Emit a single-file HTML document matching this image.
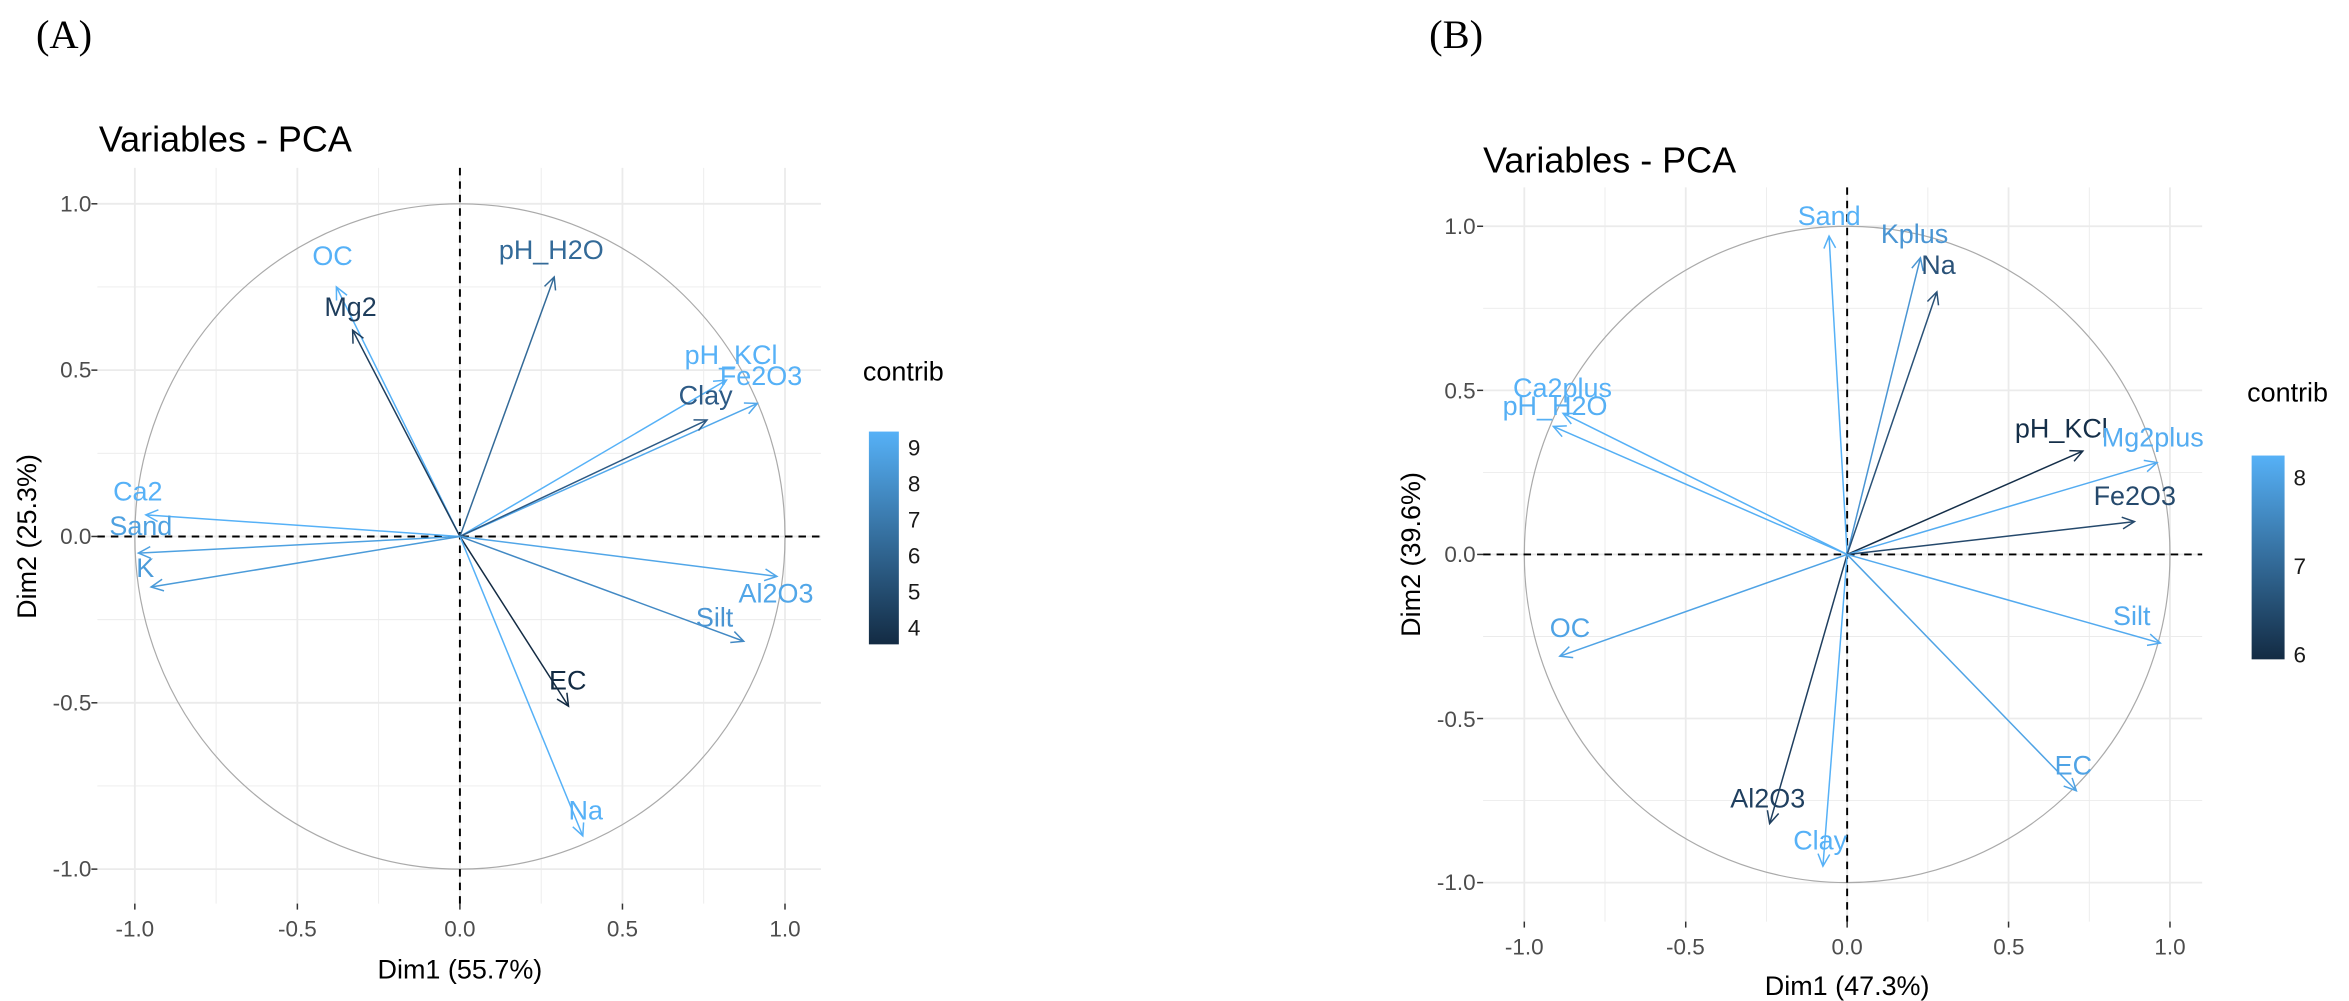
<!DOCTYPE html>
<html><head><meta charset="utf-8"><style>
html,body{margin:0;padding:0;background:#fff;}
svg{display:block;}
text{font-family:"Liberation Sans",Arial,sans-serif;}
</style></head><body>
<svg id="s" width="2349" height="1001" viewBox="0 0 1568 668" preserveAspectRatio="none" xmlns="http://www.w3.org/2000/svg">
<defs>
<linearGradient id="gA" x1="0" y1="0" x2="0" y2="1"><stop offset="0" stop-color="#56B1F7"/><stop offset="1" stop-color="#132B43"/></linearGradient>
<linearGradient id="gB" x1="0" y1="0" x2="0" y2="1"><stop offset="0" stop-color="#56B1F7"/><stop offset="1" stop-color="#132B43"/></linearGradient>
</defs>
<rect width="1568" height="668" fill="#fff"/>
<g id="grid"></g>
<g id="arr"></g>
<text x="24" y="32" font-size="27" style="font-family:'Liberation Serif',serif">(A)</text>
<text x="954" y="32" font-size="27" style="font-family:'Liberation Serif',serif">(B)</text>
<text x="66" y="101" font-size="24">Variables - PCA</text>
<text x="990" y="115" font-size="24">Variables - PCA</text>
<g font-size="15" fill="#4d4d4d" text-anchor="end">
<text x="61" y="141">1.0</text><text x="61" y="252">0.5</text><text x="61" y="363">0.0</text><text x="61" y="474">-0.5</text><text x="61" y="585">-1.0</text>
<text x="985" y="156">1.0</text><text x="985" y="266">0.5</text><text x="985" y="375">0.0</text><text x="985" y="485">-0.5</text><text x="985" y="594">-1.0</text>
</g>
<g font-size="15" fill="#4d4d4d" text-anchor="middle">
<text x="90" y="625">-1.0</text><text x="198.5" y="625">-0.5</text><text x="307" y="625">0.0</text><text x="415.5" y="625">0.5</text><text x="524" y="625">1.0</text>
<text x="1017.5" y="637">-1.0</text><text x="1125" y="637">-0.5</text><text x="1233" y="637">0.0</text><text x="1341" y="637">0.5</text><text x="1448.5" y="637">1.0</text>
</g>
<g font-size="18" text-anchor="middle">
<text x="307" y="653">Dim1 (55.7%)</text>
<text x="1233" y="664">Dim1 (47.3%)</text>
<text transform="translate(24,358) rotate(-90)">Dim2 (25.3%)</text>
<text transform="translate(948,370) rotate(-90)">Dim2 (39.6%)</text>
</g>
<text x="576" y="254" font-size="18">contrib</text>
<rect x="580" y="288" width="20" height="142" fill="url(#gA)"/>
<g font-size="15" fill="#1a1a1a"><text x="606" y="304">9</text><text x="606" y="328">8</text><text x="606" y="352">7</text><text x="606" y="376">6</text><text x="606" y="400">5</text><text x="606" y="424">4</text></g>
<text x="1500" y="268" font-size="18">contrib</text>
<rect x="1503" y="304" width="22" height="136" fill="url(#gB)"/>
<g font-size="15" fill="#1a1a1a"><text x="1531" y="324">8</text><text x="1531" y="383">7</text><text x="1531" y="442">6</text></g>
<g font-size="18" text-anchor="middle">
<text x="222" y="177" fill="#56B1F7">OC</text>
<text x="234" y="211" fill="#1e3d5c">Mg2</text>
<text x="368" y="173" fill="#336a98">pH_H2O</text>
<text x="488" y="243" fill="#56B1F7">pH_KCl</text>
<text x="508" y="257" fill="#56B1F7">Fe2O3</text>
<text x="471" y="270" fill="#2d5a85">Clay</text>
<text x="518" y="402" fill="#51a6e8">Al2O3</text>
<text x="477" y="418" fill="#4a95d3">Silt</text>
<text x="379" y="460" fill="#132B43">EC</text>
<text x="391" y="547" fill="#56B1F7">Na</text>
<text x="92" y="334" fill="#56B1F7">Ca2</text>
<text x="94" y="357" fill="#4ea1e1">Sand</text>
<text x="97" y="385" fill="#4b9bd9">K</text>
<text x="1221" y="150" fill="#56B1F7">Sand</text>
<text x="1278" y="162" fill="#4a95d3">Kplus</text>
<text x="1294" y="183" fill="#2a5278">Na</text>
<text x="1043" y="265" fill="#56B1F7">Ca2plus</text>
<text x="1038" y="277" fill="#55aff4">pH_H2O</text>
<text x="1376" y="292" fill="#152f49">pH_KCl</text>
<text x="1437" y="298" fill="#54acf1">Mg2plus</text>
<text x="1425" y="337" fill="#25496c">Fe2O3</text>
<text x="1423" y="417" fill="#53aaef">Silt</text>
<text x="1384" y="517" fill="#4fa3e5">EC</text>
<text x="1048" y="425" fill="#4fa3e5">OC</text>
<text x="1180" y="539" fill="#1f3f5f">Al2O3</text>
<text x="1215" y="567" fill="#56B1F7">Clay</text>
</g>
</svg>
<script>
var NS="http://www.w3.org/2000/svg";
function el(p,t,a){var e=document.createElementNS(NS,t);for(var k in a)e.setAttribute(k,a[k]);p.appendChild(e);return e;}
var G=document.getElementById('grid'),A=document.getElementById('arr');
function panel(cx,cy,ux,uy,x0,x1,y0,y1,arrows){
 for(var i=-4;i<=4;i++){var v=i*0.25,maj=(i%2==0);
  var X=cx+ux*v,Y=cy-uy*v;
  el(G,'line',{x1:X,x2:X,y1:y0,y2:y1,stroke:'#ebebeb','stroke-width':maj?1.2:0.6});
  el(G,'line',{x1:x0,x2:x1,y1:Y,y2:Y,stroke:'#ebebeb','stroke-width':maj?1.2:0.6});}
 for(var i=-2;i<=2;i++){var v=i*0.5;
  el(G,'line',{x1:x0-4,x2:x0,y1:cy-uy*v,y2:cy-uy*v,stroke:'#333','stroke-width':1});
  el(G,'line',{x1:cx+ux*v,x2:cx+ux*v,y1:y1,y2:y1+4,stroke:'#333','stroke-width':1});}
 el(G,'ellipse',{cx:cx,cy:cy,rx:ux,ry:uy,fill:'none',stroke:'#aaa','stroke-width':0.8});
 el(G,'line',{x1:x0,x2:x1,y1:cy,y2:cy,stroke:'#000','stroke-width':1.3,'stroke-dasharray':'5,4'});
 el(G,'line',{x1:cx,x2:cx,y1:y0,y2:y1,stroke:'#000','stroke-width':1.3,'stroke-dasharray':'5,4'});
 arrows.forEach(function(a){var tx=cx+ux*a[0],ty=cy-uy*a[1];
  el(A,'line',{x1:cx,y1:cy,x2:tx,y2:ty,stroke:a[2],'stroke-width':1});
  var ang=Math.atan2(ty-cy,tx-cx),L=9,w=0.45;
  var p='M'+(tx-L*Math.cos(ang-w))+','+(ty-L*Math.sin(ang-w))+' L'+tx+','+ty+' L'+(tx-L*Math.cos(ang+w))+','+(ty-L*Math.sin(ang+w));
  el(A,'path',{d:p,fill:'none',stroke:a[2],'stroke-width':1});});
}
panel(307,358,217,222,65,548,112,603,[
[-0.38,0.75,'#56B1F7'],[-0.33,0.62,'#1e3d5c'],[0.29,0.78,'#336a98'],[0.82,0.47,'#56B1F7'],
[0.915,0.40,'#52a8eb'],[0.76,0.35,'#2d5a85'],[0.975,-0.12,'#51a6e8'],[0.873,-0.315,'#4289c4'],
[0.334,-0.51,'#132B43'],[0.378,-0.90,'#56B1F7'],[-0.966,0.065,'#56B1F7'],[-0.989,-0.05,'#4ea1e1'],[-0.95,-0.152,'#4b9bd9']]);
panel(1233,370,215.5,219,990,1470,125,615,[
[-0.056,0.97,'#56B1F7'],[0.227,0.904,'#4a95d3'],[0.278,0.80,'#2a5278'],[-0.88,0.43,'#56B1F7'],
[-0.91,0.39,'#55aff4'],[0.73,0.315,'#152f49'],[0.96,0.28,'#54acf1'],[0.89,0.10,'#25496c'],
[0.97,-0.27,'#53aaef'],[0.71,-0.72,'#4fa3e5'],[-0.89,-0.31,'#4fa3e5'],[-0.24,-0.82,'#1f3f5f'],[-0.075,-0.95,'#56B1F7']]);
</script>
</body></html>
